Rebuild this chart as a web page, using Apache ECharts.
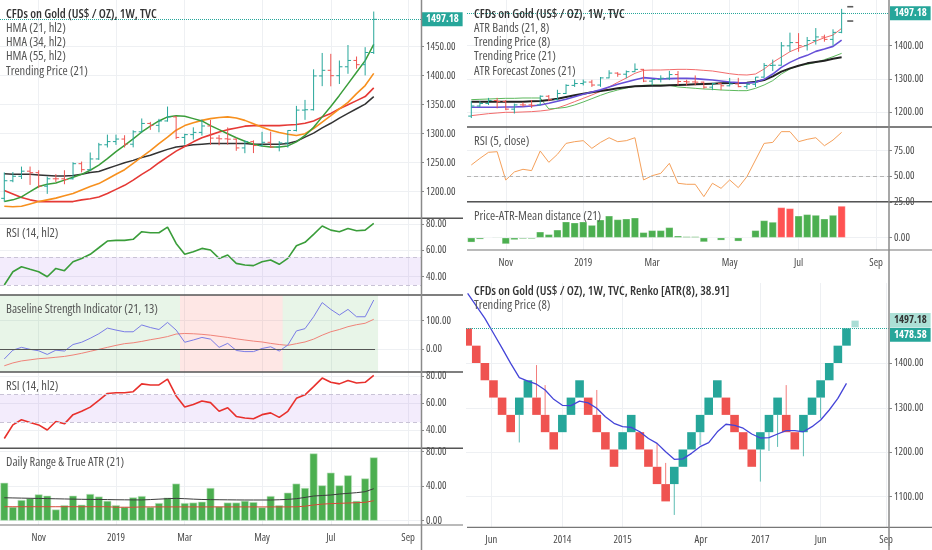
<!DOCTYPE html>
<html>
<head>
<meta charset="utf-8">
<title>CFDs on Gold (US$ / OZ), 1W - indicator panels</title>
<script src="https://cdn.jsdelivr.net/npm/echarts@6/dist/echarts.min.js"></script>
<style>
html, body, #main { width: 100%; height: 100%; margin: 0; background: #fff; }
</style>
</head>
<body>
<div id="main"></div>
<script>
// weekly bars 2018-10-08 .. 2019-08-05 (index 0..43)
const opens  = [1188.6,1218.9,1226.6,1235.4,1232.8,1209.5,1222.3,1222.2,1222.3,1248.3,1238.0,1256.5,1280.9,1286.4,1290.8,1281.9,1303.3,1317.7,1314.4,1322.0,1329.0,1293.6,1298.4,1302.3,1313.3,1292.4,1291.2,1290.6,1275.5,1286.3,1279.6,1285.2,1277.1,1284.1,1305.6,1340.7,1341.3,1399.6,1409.3,1400.0,1415.4,1426.3,1419.0,1440.0];
const highs  = [1233.3,1233.9,1243.3,1243.4,1237.0,1226.2,1230.3,1237.0,1250.8,1252.0,1267.6,1284.2,1298.4,1298.4,1297.4,1305.9,1326.3,1320.4,1325.6,1346.8,1330.3,1300.0,1311.0,1324.4,1323.8,1297.9,1310.8,1292.2,1288.5,1288.6,1303.2,1303.5,1287.2,1306.0,1348.0,1358.3,1411.0,1439.2,1437.7,1426.2,1452.9,1433.1,1449.2,1510.6];
const lows   = [1182.8,1216.4,1221.9,1211.8,1206.3,1196.3,1216.6,1212.9,1221.0,1233.4,1236.0,1254.8,1276.2,1280.7,1276.2,1276.5,1302.1,1306.6,1302.4,1320.8,1290.6,1281.0,1289.9,1296.8,1280.8,1280.1,1281.0,1270.5,1266.4,1266.6,1278.0,1275.4,1269.6,1276.0,1304.0,1323.9,1340.0,1382.0,1381.7,1385.7,1403.3,1412.0,1400.5,1437.5];
const closes = [1218.9,1226.6,1235.4,1232.8,1209.5,1222.3,1222.2,1221.0,1248.3,1238.0,1256.5,1280.9,1286.4,1290.8,1281.9,1303.3,1317.7,1314.4,1322.0,1329.0,1293.6,1298.4,1302.3,1313.3,1292.4,1291.2,1290.6,1275.5,1286.3,1279.6,1285.2,1277.1,1284.1,1305.6,1340.7,1341.3,1399.6,1409.3,1400.0,1415.4,1426.3,1419.0,1440.0,1497.18];

// left price pane overlays
const hma21 = [1183,1186,1191,1200,1209,1213,1215,1220,1225,1230,1237,1246,1257,1269,1280,1291,1303,1313,1322,1329,1331,1330,1326,1322,1314,1307,1300,1293,1287,1282,1279,1277,1277,1279,1286,1297,1311,1329,1347,1366,1386,1406,1426,1454];
const hma34 = [1175,1174,1175,1179,1183,1186,1189,1193,1197,1203,1209,1214,1222,1230,1238,1249,1260,1271,1283,1294,1306,1314,1319,1323,1326,1328,1329,1327,1323,1317,1311,1306,1302,1299,1297,1300,1309,1320,1331,1343,1354,1369,1383,1404];
const hma55 = [1202,1196,1190,1186,1183,1183,1183,1183,1183,1186,1188,1191,1197,1204,1211,1220,1230,1239,1250,1260,1270,1278,1286,1293,1298,1303,1307,1310,1313,1314,1314,1314,1314,1315,1316,1318,1322,1329,1335,1343,1350,1357,1364,1379];
const trend21L = [1231,1230,1230,1230,1229,1228,1227,1227,1228,1230,1233,1235,1240,1245,1250,1254,1259,1263,1268,1273,1277,1279,1281,1282,1283,1283,1283,1283,1283,1282,1282,1282,1282,1283,1287,1294,1301,1310,1318,1327,1335,1343,1351,1364];

// RSI (14, hl2) - same values in both RSI panes
const rsi14 = [33.7,43.8,47.6,45.6,43.8,40.0,46.3,44.6,51.4,53.9,57.0,62.0,67.1,67.6,67.6,68.4,74.2,73.4,73.4,77.7,65.3,57.0,59.0,61.5,60.3,53.9,56.5,50.1,48.9,48.4,51.4,52.7,49.4,53.9,63.5,66.1,72.2,78.5,75.4,74.2,76.7,74.9,75.4,80.5];
const rsiBandTop = [55, 66.4];
const rsiBandBottom = [33.7, 45.7];

// Baseline Strength Indicator (21, 13)
const bsiLine   = [-35,-4,6,-1,-6,-19,-4,-7,16,24,38,54,74,67,61,61,85,76,69,94,67,24,32,41,35,6,20,-5,-9,-9,2,8,-7,14,64,72,114,164,140,120,140,114,114,173];
const bsiSignal = [-59,-49,-42,-38,-34,-32,-29,-26,-21,-15,-8,-1,6,13,19,22,27,33,38,44,53,55,54,52,49,45,41,36,32,28,25,20,16,13,19,25,35,49,61,69,79,86,91,105];
const bsiZones  = [[-0.5, 20.45, 'up'], [20.45, 32.4, 'down'], [32.4, 43.5, 'up']];

// Daily Range & True ATR (21)
const rangeBars = [44,16,24,26,30.5,29,13,18,29,18.5,31,28,23,18,16,27,28.6,16,20.5,26.7,43,20.5,21,22,38,16.6,21,21,23,21.6,15.5,28.6,18,32.5,43,38,78,41,55.7,41,52.6,23,49,73.4];
const atrLine   = [26.6,26.4,26.2,26,25.8,25.6,25.4,25.2,25,24.8,24.7,24.6,24.5,24.3,24.2,24.1,24.1,24.5,25,25.5,25.9,25.5,25,24.6,24.4,24.3,24.2,24.1,24,24,24,24,24.3,24.7,25.5,27,28.6,29.2,29.8,30.9,31.7,32.5,33.6,37.1];
const rangeAvg  = [16.2,16.2,16.2,16.2,16.2,16.2,16.2,16.2,16.2,16.2,16.2,16.2,16.2,15.6,15.6,15.6,16,16,16,16,16,16,16,16,16,16,16,16,16,16,16,16,16,16,16.1,16.8,18.2,19.2,19.8,20.1,20.5,20.9,21.3,23.2];

// right price pane overlays
const atrUpper = [1190,1193,1196,1198,1200,1200,1201,1202,1204,1207,1213,1222,1232,1242,1252,1263,1276,1290,1303,1317,1326,1327,1327,1328,1329,1329,1328,1326,1324,1320,1316,1313,1312,1315,1330,1350,1366,1382,1393,1402,1414,1424,1432,1452];
const atrLower = [1238,1239,1240,1241,1242,1242,1243,1243,1243,1210,1212,1215,1222,1231,1241,1251,1260,1267,1273,1278,1281,1282,1282,1281,1276,1274,1272,1270,1269,1267,1266,1265,1265,1272,1282,1295,1315,1330,1340,1344,1350,1358,1367,1377];
const trend8R  = [1215,1215,1215,1215,1216,1216,1217,1219,1222,1227,1233,1239,1247,1254,1261,1268,1276,1284,1291,1298,1304,1302,1300,1301,1302,1302,1301,1299,1297,1294,1291,1289,1288,1290,1299,1315,1335,1350,1362,1371,1383,1390,1398,1417];
const trend21R = [1232,1232,1232,1232,1232,1232,1232,1233,1234,1237,1241,1246,1251,1256,1260,1264,1268,1272,1275,1278,1279,1280,1280,1281,1282,1283,1284,1285,1286,1287,1288,1288,1289,1292,1297,1308,1322,1332,1340,1347,1351,1355,1361,1365];
const forecastZones = [[44, 1517], [44, 1474]];

// RSI (5, close) and Price-ATR-Mean distance (21)
const rsi5 = [60.9,67.4,73.4,74,46,54,56.6,55.3,74.7,63.5,71.4,82.2,83.9,84.9,77.3,83.2,87.8,83.9,84.9,87.8,46.1,50.3,52.6,62.5,42.8,41.8,41.8,29.6,42.8,37.8,46.1,38.5,49.3,65.8,82.2,83.2,93.8,93.8,83.9,86.2,87.8,79.9,85.5,93.1];
const pamd = [-3.3,-1.2,0.2,0.5,-4.5,-1.6,-0.9,-0.9,4.2,2.4,5.6,11.3,10.6,11.3,8.9,12.7,15.5,12.9,13.4,14.1,3.8,5.2,5.2,7.3,1.4,0.9,0.9,-3.1,0,-1.9,0,-2.6,0,5.2,12.2,11.1,21.4,20.7,15.5,16.5,16,13.4,16,22.4];

// Renko [ATR(8), 38.91]
const renkoOpen  = [1478.58,1439.67,1400.76,1361.85,1322.94,1284.03,1284.03,1322.94,1322.94,1284.03,1245.12,1245.12,1284.03,1322.94,1322.94,1284.03,1245.12,1206.21,1206.21,1245.12,1245.12,1206.21,1167.30,1128.39,1128.39,1167.30,1206.21,1245.12,1284.03,1322.94,1322.94,1284.03,1245.12,1206.21,1206.21,1245.12,1284.03,1284.03,1245.12,1245.12,1284.03,1322.94,1361.85,1400.76,1439.67];
const renkoClose = [1439.67,1400.76,1361.85,1322.94,1284.03,1245.12,1322.94,1361.85,1284.03,1245.12,1206.21,1284.03,1322.94,1361.85,1284.03,1245.12,1206.21,1167.30,1245.12,1284.03,1206.21,1167.30,1128.39,1089.48,1167.30,1206.21,1245.12,1284.03,1322.94,1361.85,1284.03,1245.12,1206.21,1167.30,1245.12,1284.03,1322.94,1245.12,1206.21,1284.03,1322.94,1361.85,1400.76,1439.67,1478.58];
const renkoWick  = [null,null,null,null,null,null,1222,null,1396,1351,null,null,null,null,null,1340,null,null,null,null,null,null,1220,1176,1059,null,null,1216,null,null,null,null,null,null,1134,1203,1212,1351,null,1191,null,1276,null,null,null];
const renkoPending = [45, 1481, 1496];
const renkoTrend = [1557,1529,1501,1467.5,1434,1400,1368,1360,1353,1340,1319,1305.5,1305,1315,1311,1299,1280,1265,1257.5,1256,1246,1231,1220,1201,1184,1185,1197.5,1212.5,1221.5,1246,1263,1260.5,1254,1241,1232,1233,1241,1248.5,1248.5,1246,1257.5,1272.5,1295,1321,1355];

// axis ticks
const weekTickIdx  = [4, 13, 21, 30, 38, 47];
const weekTickText = ['Nov', '2019', 'Mar', 'May', 'Jul', 'Sep'];
const renkoTickPos  = [2.75, 11, 18, 27.1, 34, 41, 48.6];
const renkoTickText = ['Jun', '2014', '2015', 'Apr', '2017', 'Jun', 'Sep'];

// ---------------------------------------------------------------
// pick a narrow face if one is installed; size text to the widths seen in the screenshot
const mctx = document.createElement('canvas').getContext('2d');
function textW(font, s) { mctx.font = font; return mctx.measureText(s).width; }
const TITLE_PROBE = 'CFDs on Gold (US$ / OZ), 1W, TVC';
let FAMILY = 'Roboto', STRETCH = '';
for (const f of ["'Open Sans'", "'Noto Sans'", "'DejaVu Sans'", "'Liberation Sans'", 'Inter', 'Roboto', 'Lato']) {
  const n = textW('40px ' + f, TITLE_PROBE), c = textW('condensed 40px ' + f, TITLE_PROBE);
  if (c < n * 0.93) { FAMILY = f; STRETCH = 'condensed'; break; }
}
const pre = STRETCH ? STRETCH + ' ' : '';
let LEG_SIZE = 12 * 152 / textW(pre + '12px ' + FAMILY, 'Baseline Strength Indicator (21, 13)');
LEG_SIZE = Math.max(10, Math.min(13.5, LEG_SIZE));
const LEG_SCALE = Math.min(1, 152 / textW(pre + LEG_SIZE + 'px ' + FAMILY, 'Baseline Strength Indicator (21, 13)'));
let AX = 40 * 29.5 / textW(pre + '40px ' + FAMILY, '1450.00');
AX = Math.max(8.5, Math.min(12, AX));
const AXSTYLE = STRETCH || 'normal';

const UP = '#26a69a', DOWN = '#ef5350';
const GRIDC = '#eef0f3', TXT = '#4a4a4a';
const lastClose = closes[closes.length - 1];
const renkoLast = renkoClose[renkoClose.length - 1];

const pts = arr => arr.map((v, i) => [i, v]);

function xWeek(grid, showLabels) {
  return {
    type: 'value', gridIndex: grid, min: -0.5, max: 48.5,
    axisLine: { show: false, onZero: false },
    axisTick: { show: false, customValues: weekTickIdx },
    axisLabel: {
      show: showLabels, customValues: weekTickIdx, margin: 7,
      formatter: v => weekTickText[weekTickIdx.indexOf(v)],
      color: TXT, fontFamily: FAMILY, fontStyle: AXSTYLE, fontSize: AX
    },
    splitLine: { show: true, lineStyle: { color: GRIDC, width: 1 } }
  };
}
function yRight(grid, min, max, ticks) {
  return {
    type: 'value', gridIndex: grid, position: 'right', min, max,
    axisLine: { show: false, onZero: false },
    axisTick: { show: true, inside: false, length: 3, customValues: ticks, lineStyle: { color: '#888' } },
    axisLabel: {
      customValues: ticks, margin: 5, formatter: v => v.toFixed(2),
      color: TXT, fontFamily: FAMILY, fontStyle: AXSTYLE, fontSize: AX
    },
    splitLine: { show: true, lineStyle: { color: GRIDC, width: 1 } }
  };
}
function lineS(ax, data, color, width) {
  return {
    type: 'line', xAxisIndex: ax, yAxisIndex: ax, data: pts(data), symbol: 'none',
    lineStyle: { color, width }, itemStyle: { color }, z: 3, silent: true
  };
}
function priceTag(value, bg, fg, offsetY) {
  return {
    yAxis: value,
    label: {
      show: true, position: 'end', distance: 1, formatter: p => p.value.toFixed(2),
      backgroundColor: bg, color: fg, padding: [2, 4, 1, 4], fontFamily: FAMILY, fontStyle: AXSTYLE,
      fontSize: AX, fontWeight: 'bold', offset: [0, offsetY || 0]
    }
  };
}

function ohlcBar(params, api) {
  const i = api.value(0), o = api.value(1), h = api.value(2), l = api.value(3), c = api.value(4);
  const pH = api.coord([i, h]), pL = api.coord([i, l]);
  const pO = api.coord([i, o]), pC = api.coord([i, c]);
  const t = api.size([1, 0])[0] * 0.36;
  const style = { stroke: c >= o ? UP : DOWN, lineWidth: 1 };
  return {
    type: 'group', children: [
      { type: 'line', shape: { x1: pH[0], y1: pH[1], x2: pL[0], y2: pL[1] }, style },
      { type: 'line', shape: { x1: pO[0] - t, y1: pO[1], x2: pO[0], y2: pO[1] }, style },
      { type: 'line', shape: { x1: pC[0], y1: pC[1], x2: pC[0] + t, y2: pC[1] }, style }
    ]
  };
}
function renkoBrick(params, api) {
  const k = api.value(0), o = api.value(1), c = api.value(2), w = api.value(3), ghost = api.value(4);
  const hi = Math.max(o, c), lo = Math.min(o, c);
  const half = ghost ? 0.42 : 0.5;
  const a = api.coord([k - half, hi]), b = api.coord([k + half, lo]);
  const color = ghost ? '#a9ddd5' : (c >= o ? UP : DOWN);
  const children = [];
  if (!isNaN(w)) {
    const from = w < lo ? lo : hi;
    const p1 = api.coord([k, from]), p2 = api.coord([k, w]);
    children.push({ type: 'line', shape: { x1: p1[0], y1: p1[1], x2: p2[0], y2: p2[1] },
      style: { stroke: color, lineWidth: 1, opacity: 0.75 } });
  }
  children.push({ type: 'rect', shape: { x: a[0], y: a[1], width: b[0] - a[0], height: b[1] - a[1] },
    style: { fill: color } });
  return { type: 'group', children };
}

const ohlcData = opens.map((o, i) => [i, o, highs[i], lows[i], closes[i]]);
const renkoData = renkoOpen.map((o, k) => [k, o, renkoClose[k], renkoWick[k] == null ? NaN : renkoWick[k], 0]);
renkoData.push([renkoPending[0], renkoPending[1], renkoPending[2], NaN, 1]);

// legend / separators
function txt(x, y, text, color, weight) {
  return { type: 'text', x, y, z: 100, silent: true, scaleX: LEG_SCALE,
    style: { text, fill: color || '#555', font: pre + (weight || 'normal') + ' ' + LEG_SIZE + 'px ' + FAMILY, verticalAlign: 'middle' } };
}
function hline(x1, x2, y, color, w) {
  return { type: 'line', z: 90, silent: true, shape: { x1, y1: y, x2, y2: y }, style: { stroke: color, lineWidth: w } };
}
function vline(x, y1, y2, color, w) {
  return { type: 'line', z: 90, silent: true, shape: { x1: x, y1, x2: x, y2 }, style: { stroke: color, lineWidth: w } };
}
const SEP = '#555';
const graphics = [
  txt(6, 14, 'CFDs on Gold (US$ / OZ), 1W, TVC', '#333', '600'),
  txt(6, 28.5, 'HMA (21, hl2)'),
  txt(6, 42.7, 'HMA (34, hl2)'),
  txt(6, 56.9, 'HMA (55, hl2)'),
  txt(6, 71, 'Trending Price (21)'),
  txt(6, 233.3, 'RSI (14, hl2)'),
  txt(6, 309.3, 'Baseline Strength Indicator (21, 13)'),
  txt(6, 386.7, 'RSI (14, hl2)'),
  txt(6, 462.3, 'Daily Range & True ATR (21)'),
  txt(474, 14, 'CFDs on Gold (US$ / OZ), 1W, TVC', '#333', '600'),
  txt(474, 28.3, 'ATR Bands (21, 8)'),
  txt(474, 42.5, 'Trending Price (8)'),
  txt(474, 56.7, 'Trending Price (21)'),
  txt(474, 71, 'ATR Forecast Zones (21)'),
  txt(474, 141.7, 'RSI (5, close)'),
  txt(474, 216, 'Price-ATR-Mean distance (21)'),
  txt(474, 291.7, 'CFDs on Gold (US$ / OZ), 1W, TVC, Renko [ATR(8), 38.91]', '#333', '600'),
  txt(474, 305.7, 'Trending Price (8)'),
  hline(0, 463, 218.3, SEP, 1.5), hline(0, 463, 295, SEP, 1.5), hline(0, 463, 372, SEP, 1.5),
  hline(0, 463, 448.3, SEP, 1.5), hline(0, 463, 525, '#777', 1.2),
  hline(467, 932, 127, SEP, 1.5), hline(467, 932, 201.7, SEP, 1.5), hline(467, 932, 250, '#777', 1.2),
  hline(467, 932, 527.3, '#777', 1.2),
  vline(421.5, 0, 550, '#8a8a8a', 1.5), vline(889, 0, 550, '#8a8a8a', 1.5)
];

const option = {
  animation: false,
  backgroundColor: '#fff',
  grid: [
    { left: 0, top: 0, width: 421, height: 218 },
    { left: 0, top: 218, width: 421, height: 77 },
    { left: 0, top: 295, width: 421, height: 77 },
    { left: 0, top: 372, width: 421, height: 76 },
    { left: 0, top: 448, width: 421, height: 77 },
    { left: 467, top: 0, width: 422, height: 127 },
    { left: 467, top: 127, width: 422, height: 75 },
    { left: 467, top: 202, width: 422, height: 48 },
    { left: 466, top: 283, width: 423, height: 244 }
  ],
  xAxis: [
    xWeek(0, false), xWeek(1, false), xWeek(2, false), xWeek(3, false), xWeek(4, true),
    xWeek(5, false), xWeek(6, false), xWeek(7, true),
    {
      type: 'value', gridIndex: 8, min: -0.19, max: 48.94,
      axisLine: { show: false, onZero: false },
      axisTick: { show: false, customValues: renkoTickPos },
      axisLabel: {
        customValues: renkoTickPos, margin: 7,
        formatter: v => renkoTickText[renkoTickPos.findIndex(p => Math.abs(p - v) < 1e-6)],
        color: TXT, fontFamily: FAMILY, fontStyle: AXSTYLE, fontSize: AX
      },
      splitLine: { show: true, lineStyle: { color: GRIDC, width: 1 } }
    }
  ],
  yAxis: [
    yRight(0, 1154.7, 1530.5, [1200, 1250, 1300, 1350, 1400, 1450]),
    yRight(1, 26.1, 84.6, [40, 60, 80]),
    yRight(2, -81, 190.8, [0, 100]),
    yRight(3, 26.7, 83, [40, 60, 80]),
    yRight(4, -5, 84.3, [0, 40, 80]),
    yRight(5, 1155.9, 1537.2, [1200, 1300, 1400]),
    yRight(6, 24.3, 98.4, [50, 75]),
    yRight(7, -8.7, 25.2, [0, 25]),
    yRight(8, 1031.9, 1580.6, [1100, 1200, 1300, 1400])
  ],
  graphic: graphics,
  series: [
    // left price pane
    { type: 'custom', xAxisIndex: 0, yAxisIndex: 0, renderItem: ohlcBar, data: ohlcData,
      encode: { x: 0, y: [1, 2, 3, 4] }, z: 4, silent: true },
    lineS(0, trend21L, '#333', 1.5),
    lineS(0, hma55, '#e53935', 1.6),
    lineS(0, hma34, '#f7901e', 1.6),
    Object.assign(lineS(0, hma21, '#3a9d3a', 1.5), {
      markLine: { symbol: 'none', silent: true, animation: false,
        lineStyle: { type: 'dotted', color: UP, width: 1 },
        data: [priceTag(lastClose, UP, '#fff')] }
    }),

    // RSI (14) green
    Object.assign(lineS(1, rsi14, '#3a9d3a', 1.6), {
      markArea: { silent: true, itemStyle: { color: 'rgba(156, 100, 230, 0.12)' },
        data: [[{ yAxis: rsiBandBottom[0] }, { yAxis: rsiBandTop[0] }]] },
      markLine: { symbol: 'none', silent: true, label: { show: false },
        lineStyle: { type: [4, 3], color: '#c9c3d6', width: 1 },
        data: [{ yAxis: rsiBandBottom[0] }, { yAxis: rsiBandTop[0] }] }
    }),

    // Baseline Strength Indicator
    Object.assign(lineS(2, bsiSignal, '#f08379', 1), {
      markArea: { silent: true,
        data: bsiZones.map(z => [
          { xAxis: z[0], itemStyle: { color: z[2] === 'up' ? 'rgba(76, 175, 80, 0.13)' : 'rgba(244, 67, 54, 0.13)' } },
          { xAxis: z[1] }]) },
      markLine: { symbol: 'none', silent: true, label: { show: false },
        lineStyle: { type: 'solid', color: '#555', width: 1 },
        data: [[{ coord: [-0.5, 0] }, { coord: [43.15, 0] }]] }
    }),
    lineS(2, bsiLine, '#7a7ce6', 1),

    // RSI (14) red
    Object.assign(lineS(3, rsi14, '#e8302c', 1.6), {
      markArea: { silent: true, itemStyle: { color: 'rgba(156, 100, 230, 0.12)' },
        data: [[{ yAxis: rsiBandBottom[1] }, { yAxis: rsiBandTop[1] }]] },
      markLine: { symbol: 'none', silent: true, label: { show: false },
        lineStyle: { type: [4, 3], color: '#c9c3d6', width: 1 },
        data: [{ yAxis: rsiBandBottom[1] }, { yAxis: rsiBandTop[1] }] }
    }),

    // Daily range & ATR
    { type: 'bar', xAxisIndex: 4, yAxisIndex: 4, data: pts(rangeBars), barWidth: 7.8, silent: true,
      itemStyle: { color: '#4caf50', borderColor: '#c8e6c9', borderWidth: 0.6 } },
    lineS(4, atrLine, '#3d3d3d', 1),
    lineS(4, rangeAvg, '#d84a3a', 1),

    // right price pane
    lineS(5, atrUpper, '#f26b6b', 1),
    lineS(5, atrLower, '#5cb85c', 1),
    { type: 'custom', xAxisIndex: 5, yAxisIndex: 5, renderItem: ohlcBar, data: ohlcData,
      encode: { x: 0, y: [1, 2, 3, 4] }, z: 4, silent: true },
    lineS(5, trend21R, '#222', 2),
    Object.assign(lineS(5, trend8R, '#6650d8', 1.6), {
      markLine: { symbol: 'none', silent: true, animation: false,
        lineStyle: { type: 'dotted', color: UP, width: 1 },
        data: [priceTag(lastClose, UP, '#fff')] }
    }),
    { type: 'scatter', xAxisIndex: 5, yAxisIndex: 5, data: forecastZones, symbol: 'rect',
      symbolSize: [6, 1.6], itemStyle: { color: '#333' }, silent: true, z: 5 },

    // RSI (5, close)
    Object.assign(lineS(6, rsi5, '#f5a05a', 1), {
      markLine: { symbol: 'none', silent: true, label: { show: false },
        lineStyle: { type: [4, 3], color: '#b5b5b5', width: 1 },
        data: [{ yAxis: 50 }] }
    }),

    // Price-ATR-Mean distance
    { type: 'bar', xAxisIndex: 7, yAxisIndex: 7, data: pts(pamd), barWidth: 7.8, silent: true,
      itemStyle: { color: p => (p.value[1] >= 20 ? '#ff5252' : '#4caf50'), borderColor: 'rgba(255,255,255,0.5)', borderWidth: 0.6 } },

    // Renko
    { type: 'custom', xAxisIndex: 8, yAxisIndex: 8, renderItem: renkoBrick, data: renkoData, clip: true,
      encode: { x: 0, y: [1, 2] }, z: 2, silent: true },
    Object.assign(lineS(8, renkoTrend, '#4545d8', 1.3), {
      markLine: { symbol: 'none', silent: true, animation: false,
        data: [
          Object.assign(priceTag(renkoLast, UP, '#fff', 6.5), { lineStyle: { type: 'dotted', color: UP, width: 1 } }),
          Object.assign(priceTag(lastClose, '#ace0d6', '#333', 0), { lineStyle: { color: 'rgba(0,0,0,0)', width: 1 } })
        ] }
    })
  ]
};

const chart = echarts.init(document.getElementById('main'));
chart.setOption(option);
</script>
</body>
</html>
